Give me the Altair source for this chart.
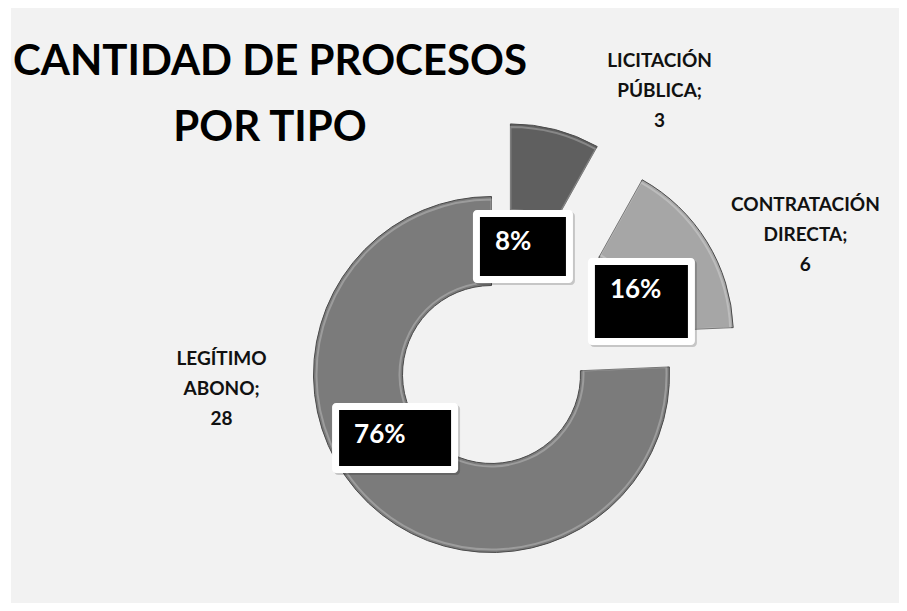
import altair as alt
import pandas as pd

# ---------------- data ----------------
CATEGORIAS = ["LICITACIÓN PÚBLICA", "CONTRATACIÓN DIRECTA", "LEGÍTIMO ABONO"]
PROCESOS = [3, 6, 28]
TITULO = ["CANTIDAD DE PROCESOS", "POR TIPO"]

# ---------------- style / layout ----------------
COLORES = ["#5f5f5f", "#a6a6a6", "#7b7b7b"]
EXPLOSION = [75, 75, 0]            # px each slice is pulled out of the ring
CX, CY = 480.5, 366.5              # centre of the ring inside the view
R_OUT, R_IN = 178, 89
# label placement (polar, relative to the ring centre): angle deg, radius px
PCT_ANG = [13.8, 64.0, 236.6]
PCT_RAD = [131.8, 166.8, 115.5]
PCT_W = [100, 107, 126]
PCT_H = [73, 87, 70]
CAT_ANG = [28.2, 61.7, 273.3]
CAT_RAD = [355.7, 356.5, 270.4]
FONT = "Lato"
W, H = 888, 595


def lineas(cat, v):
    partes = cat.split(" ")
    partes[-1] = partes[-1] + ";"
    return partes + [str(v)]


df = pd.DataFrame({
    "categoria": CATEGORIAS,
    "procesos": PROCESOS,
    "orden": list(range(len(CATEGORIAS))),
    "explosion": EXPLOSION,
    "pang": PCT_ANG, "prad": PCT_RAD, "pw": PCT_W, "ph": PCT_H,
    "cang": CAT_ANG, "crad": CAT_RAD,
    "lineas": [lineas(c, v) for c, v in zip(CATEGORIAS, PROCESOS)],
})

base = (
    alt.Chart(df)
    .transform_joinaggregate(total="sum(procesos)")
    .transform_window(acum="sum(procesos)", sort=[alt.SortField("orden")], frame=[None, 0])
    .transform_calculate(
        t0="2*PI*(datum.acum-datum.procesos)/datum.total",
        t1="2*PI*datum.acum/datum.total",
        tm="(datum.t0+datum.t1)/2",
        cx=f"{CX}+datum.explosion*sin(datum.tm)",
        cy=f"{CY}-datum.explosion*cos(datum.tm)",
        pct="datum.procesos/datum.total",
        bx=f"{CX}+datum.prad*sin(datum.pang*PI/180)",
        by=f"{CY}-datum.prad*cos(datum.pang*PI/180)",
        bx0="datum.bx-datum.pw/2", bx1="datum.bx+datum.pw/2",
        by0="datum.by-datum.ph/2", by1="datum.by+datum.ph/2",
        ix0="datum.bx0+7", ix1="datum.bx1-7", iy0="datum.by0+7", iy1="datum.by1-7",
        sx0="datum.bx0+2", sx1="datum.bx1+2", sy0="datum.by0+2", sy1="datum.by1+2",
        tx="datum.bx0+22", ty="datum.by0+32",
        lx=f"{CX}+datum.crad*sin(datum.cang*PI/180)",
        ly=f"{CY}-datum.crad*cos(datum.cang*PI/180)",
    )
)

color = alt.Color("categoria:N", scale=alt.Scale(domain=CATEGORIAS, range=COLORES), legend=None)

arcs = base.mark_arc(radius=R_OUT, radius2=R_IN, stroke="#4a4a4a", strokeWidth=1).encode(
    theta=alt.Theta("t0:Q", scale=None, stack=False),
    theta2="t1:Q",
    x=alt.X("cx:Q", scale=None, axis=None),
    y=alt.Y("cy:Q", scale=None, axis=None),
    color=color,
)

# subtle bevel highlight
bevel = base.mark_arc(radius=R_OUT - 3, radius2=R_IN + 3, fillOpacity=0,
                      stroke="#ffffff", strokeOpacity=0.25, strokeWidth=2).encode(
    theta=alt.Theta("t0:Q", scale=None, stack=False),
    theta2="t1:Q",
    x=alt.X("cx:Q", scale=None, axis=None),
    y=alt.Y("cy:Q", scale=None, axis=None),
)

shadow = base.mark_rect(color="#000000", opacity=0.18, cornerRadius=4).encode(
    x=alt.X("sx0:Q", scale=None, axis=None), x2="sx1:Q",
    y=alt.Y("sy0:Q", scale=None, axis=None), y2="sy1:Q",
)
outer = base.mark_rect(color="#ffffff", cornerRadius=4).encode(
    x=alt.X("bx0:Q", scale=None, axis=None), x2="bx1:Q",
    y=alt.Y("by0:Q", scale=None, axis=None), y2="by1:Q",
)
inner = base.mark_rect(color="#000000").encode(
    x=alt.X("ix0:Q", scale=None, axis=None), x2="ix1:Q",
    y=alt.Y("iy0:Q", scale=None, axis=None), y2="iy1:Q",
)
pct_text = base.mark_text(font=FONT, fontWeight="bold", fontSize=26, color="#ffffff",
                          align="left", baseline="middle").encode(
    x=alt.X("tx:Q", scale=None, axis=None),
    y=alt.Y("ty:Q", scale=None, axis=None),
    text=alt.Text("pct:Q", format=".0%"),
)
cat_text = base.mark_text(font=FONT, fontWeight="bold", fontSize=19, color="#111111",
                          align="center", baseline="middle", lineHeight=30).encode(
    x=alt.X("lx:Q", scale=None, axis=None),
    y=alt.Y("ly:Q", scale=None, axis=None),
    text="lineas:N",
)

title = alt.Chart(pd.DataFrame({"t": [TITULO]})).mark_text(
    font=FONT, fontWeight="bold", fontSize=42, color="#000000",
    align="center", baseline="middle", lineHeight=66,
).encode(
    x=alt.value(259), y=alt.value(54), text="t:N"
)

chart = (
    alt.layer(arcs, bevel, shadow, outer, inner, pct_text, cat_text, title)
    .properties(width=W, height=H, background="#ffffff",
                padding={"left": 3, "top": 0, "right": 0, "bottom": 0},
                autosize=alt.AutoSizeParams(type="none"))
    .configure_view(fill="#f2f2f2", strokeWidth=0)
)

chart.save("out.html", embed_options={"renderer": "svg", "actions": False})
